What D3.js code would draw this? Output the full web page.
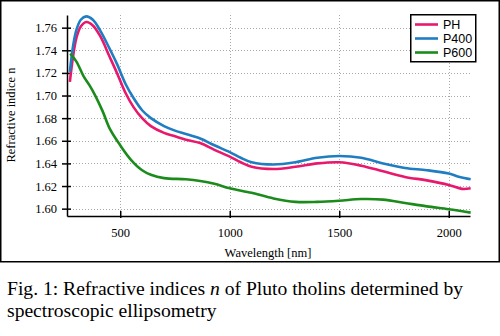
<!DOCTYPE html>
<html>
<head>
<meta charset="utf-8">
<script src="https://cdn.jsdelivr.net/npm/d3@7"></script>
<style>
  html, body { margin: 0; padding: 0; background: #fff; }
  svg { display: block; }
</style>
</head>
<body>
<script>
// Refractive index n versus wavelength for three Pluto tholin samples
const wavelengthTicks = [500, 1000, 1500, 2000];
const indexTicks = [1.60, 1.62, 1.64, 1.66, 1.68, 1.70, 1.72, 1.74, 1.76];
const seriesNames = ["PH", "P400", "P600"];

const phData = [
  [270,1.712],[285,1.735],[300,1.751],[320,1.761],[345,1.765],[375,1.762],[410,1.752],
  [450,1.735],[485,1.720],[525,1.702],[560,1.690],[600,1.680],[640,1.673],[700,1.667],
  [750,1.664],[800,1.661],[865,1.658],[930,1.652],[1000,1.646],[1050,1.641],[1100,1.637],
  [1200,1.635],[1300,1.637],[1400,1.640],[1500,1.641],[1600,1.638],[1700,1.633],[1800,1.628],
  [1900,1.625],[2000,1.621],[2060,1.6175],[2100,1.618]
];
const p400Data = [
  [270,1.721],[285,1.744],[300,1.758],[320,1.767],[345,1.770],[375,1.767],[410,1.757],
  [450,1.742],[485,1.728],[525,1.710],[560,1.698],[600,1.687],[640,1.680],[700,1.673],
  [750,1.669],[800,1.666],[865,1.662],[930,1.656],[1000,1.650],[1050,1.645],[1100,1.641],
  [1200,1.639],[1300,1.641],[1400,1.645],[1500,1.6465],[1600,1.645],[1700,1.640],[1800,1.636],
  [1900,1.634],[2000,1.631],[2050,1.628],[2100,1.626]
];
const p600Data = [
  [272,1.737],[300,1.730],[333,1.717],[360,1.709],[386,1.700],[420,1.686],[454,1.670],
  [500,1.656],[550,1.643],[600,1.634],[640,1.630],[700,1.627],[800,1.626],[865,1.6245],
  [930,1.622],[1000,1.618],[1100,1.614],[1200,1.609],[1300,1.606],[1400,1.606],[1500,1.607],
  [1600,1.6085],[1700,1.608],[1800,1.605],[1900,1.602],[2000,1.5995],[2100,1.5965]
];
const seriesColors = ["#e8196d", "#1f7dc2", "#1b8c1b"];

const W = 500, H = 336;
const svg = d3.select("body").append("svg").attr("width", W).attr("height", H);

// outer frame around the plot panel
svg.append("rect")
  .attr("x", 0.75).attr("y", 0.75).attr("width", 498.5).attr("height", 261)
  .attr("fill", "none").attr("stroke", "#000").attr("stroke-width", 1.5);

const plotLeft = 67, plotRight = 470, plotTop = 15, plotBottom = 216;
const x = d3.scaleLinear().domain([257, 2097]).range([plotLeft, plotRight]);
const y = d3.scaleLinear().domain([1.5935, 1.7712]).range([plotBottom, plotTop]);

// dotted grid
const grid = svg.append("g").attr("stroke", "#a8a8a8").attr("stroke-width", 1)
  .attr("stroke-dasharray", "1,2");
grid.selectAll("line.v").data(wavelengthTicks).join("line").attr("class", "v")
  .attr("x1", d => Math.round(x(d)) + 0.5).attr("x2", d => Math.round(x(d)) + 0.5)
  .attr("y1", plotTop).attr("y2", plotBottom);
grid.selectAll("line.h").data(indexTicks).join("line").attr("class", "h")
  .attr("x1", plotLeft).attr("x2", plotRight)
  .attr("y1", d => Math.round(y(d)) + 0.5).attr("y2", d => Math.round(y(d)) + 0.5);

// axes
const xAxis = d3.axisBottom(x).tickValues(wavelengthTicks).tickFormat(d3.format("d"))
  .tickSizeInner(5).tickSizeOuter(0).tickPadding(7);
const yAxis = d3.axisLeft(y).tickValues(indexTicks).tickFormat(d3.format(".2f"))
  .tickSizeInner(5).tickSizeOuter(0).tickPadding(5);

const gx = svg.append("g").attr("transform", `translate(0,${plotBottom})`).call(xAxis);
const gy = svg.append("g").attr("transform", `translate(${plotLeft},0)`).call(yAxis);
[gx, gy].forEach(g => {
  g.select(".domain").attr("stroke", "#000").attr("stroke-width", 1.5);
  g.selectAll(".tick line").attr("stroke", "#000").attr("stroke-width", 1.5);
  g.selectAll(".tick text").attr("fill", "#000")
    .attr("font-family", "'Liberation Serif', 'Times New Roman', serif").attr("font-size", 12.5);
});
// ticks cross the axis lines
gx.selectAll(".tick line").attr("y1", -5).attr("y2", 2);
gy.selectAll(".tick line").attr("x1", -5).attr("x2", 4);

// axis titles
svg.append("text").attr("x", 268).attr("y", 257).attr("text-anchor", "middle")
  .attr("font-family", "'Liberation Serif', serif").attr("font-size", 12.5)
  .text("Wavelength [nm]");
svg.append("text").attr("transform", "translate(15,115) rotate(-90)")
  .attr("text-anchor", "middle")
  .attr("font-family", "'Liberation Serif', serif").attr("font-size", 12.5)
  .text("Refractive indice n");

// curves
const line = d3.line().x(d => x(d[0])).y(d => y(d[1])).curve(d3.curveCatmullRom.alpha(0.5));
const allSeries = [phData, p400Data, p600Data];
svg.append("g").selectAll("path").data(allSeries).join("path")
  .attr("d", line).attr("fill", "none")
  .attr("stroke", (d, i) => seriesColors[i]).attr("stroke-width", 2.6)
  .attr("stroke-linejoin", "round");

// legend
const lg = svg.append("g");
lg.append("rect").attr("x", 410.75).attr("y", 14.75).attr("width", 65).attr("height", 47)
  .attr("fill", "#fff").attr("stroke", "#000").attr("stroke-width", 1.5);
seriesNames.forEach((name, i) => {
  const yy = 24.5 + i * 14;
  lg.append("line").attr("x1", 415).attr("x2", 438).attr("y1", yy).attr("y2", yy)
    .attr("stroke", seriesColors[i]).attr("stroke-width", 2.6);
  lg.append("text").attr("x", 443).attr("y", yy + 4.5)
    .attr("font-family", "'Liberation Sans', Arial, sans-serif").attr("font-size", 12.5)
    .text(name);
});

// figure caption
const cap = svg.append("text").attr("font-family", "'Liberation Serif', 'Times New Roman', serif")
  .attr("font-size", 19.6).attr("fill", "#000");
const l1 = cap.append("tspan").attr("x", 7).attr("y", 295);
l1.append("tspan").text("Fig. 1: Refractive indices ");
l1.append("tspan").attr("font-style", "italic").text("n");
l1.append("tspan").text(" of Pluto tholins determined by");
cap.append("tspan").attr("x", 7).attr("y", 317).text("spectroscopic ellipsometry");
</script>
</body>
</html>
